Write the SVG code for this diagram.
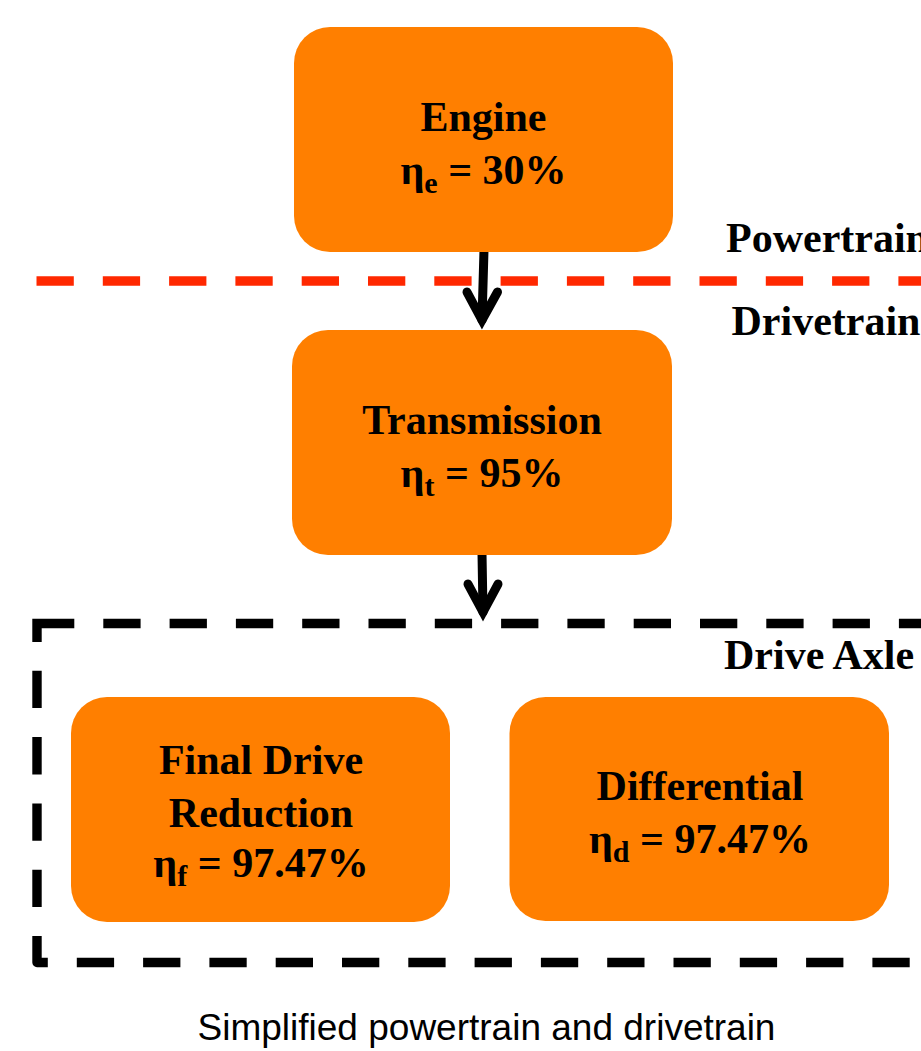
<svg xmlns="http://www.w3.org/2000/svg" width="921" height="1051" viewBox="0 0 921 1051">
  <defs>
    <style>
      .box { fill: #FF7F00; }
      .label { font-family: "Liberation Serif", "Times New Roman", serif; font-weight: bold; font-size: 42px; fill: #000; text-anchor: middle; }
      .side { font-family: "Liberation Serif", "Times New Roman", serif; font-weight: bold; font-size: 42px; fill: #000; }
      .sub { font-size: 30px; }
      .caption { font-family: "Liberation Sans", Arial, sans-serif; font-size: 37px; fill: #000; text-anchor: middle; }
      .dash { fill: none; stroke-width: 9.4; stroke-dasharray: 37.3 29; }
      .arrow { fill: none; stroke: #000; stroke-width: 9; stroke-linecap: round; stroke-linejoin: miter; }
    </style>
  </defs>

  <rect width="921" height="1051" fill="#fff"/>

  <!-- boundary between powertrain and drivetrain -->
  <g id="boundary">
    <path class="dash" stroke="#FF2800" d="M 36.5,281 H 930"/>
  </g>

  <!-- drive axle enclosure (runs off the right edge) -->
  <g id="drive-axle-frame">
    <path d="M 37,642 V 623.5 H 74.3" fill="none" stroke="#000" stroke-width="9.4" stroke-linejoin="miter"/>
    <path class="dash" stroke="#000" d="M 103.3,623.5 H 930"/>
    <path class="dash" stroke="#000" stroke-linejoin="round" d="M 37,670.8 V 962.5 H 930"/>
  </g>

  <!-- connectors -->
  <g id="connectors">
    <path class="arrow" d="M 484,250 L 482,320"/>
    <path class="arrow" d="M 467,292 L 482,320 L 497.5,292"/>
    <path class="arrow" d="M 482,553 L 483,612"/>
    <path class="arrow" d="M 468,584 L 483,612 L 498,584"/>
  </g>

  <g id="engine">
    <rect class="box" x="294" y="27" width="379" height="225" rx="36"/>
    <text class="label" x="483.5" y="131">Engine</text>
    <text class="label" x="483.5" y="183.5">η<tspan class="sub" dy="9">e</tspan><tspan dy="-9"> = 30%</tspan></text>
  </g>

  <g id="transmission">
    <rect class="box" x="292" y="330" width="380" height="225" rx="36"/>
    <text class="label" x="482" y="433.5">Transmission</text>
    <text class="label" x="482" y="486.5">η<tspan class="sub" dy="9">t</tspan><tspan dy="-9"> = 95%</tspan></text>
  </g>

  <g id="final-drive">
    <rect class="box" x="71" y="697" width="379" height="225" rx="36"/>
    <text class="label" x="261" y="773.5">Final Drive</text>
    <text class="label" x="261" y="826.5">Reduction</text>
    <text class="label" x="261" y="876.5">η<tspan class="sub" dy="9">f</tspan><tspan dy="-9"> = 97.47%</tspan></text>
  </g>

  <g id="differential">
    <rect class="box" x="509.5" y="697" width="379.5" height="224" rx="36"/>
    <text class="label" x="700" y="800">Differential</text>
    <text class="label" x="700" y="853">η<tspan class="sub" dy="9">d</tspan><tspan dy="-9"> = 97.47%</tspan></text>
  </g>

  <g id="zone-labels">
    <text class="side" x="726" y="251.5">Powertrain</text>
    <text class="side" x="731.5" y="335">Drivetrain</text>
    <text class="side" x="724" y="668.5">Drive Axle</text>
  </g>

  <text class="caption" x="486.5" y="1040">Simplified powertrain and drivetrain</text>
</svg>
